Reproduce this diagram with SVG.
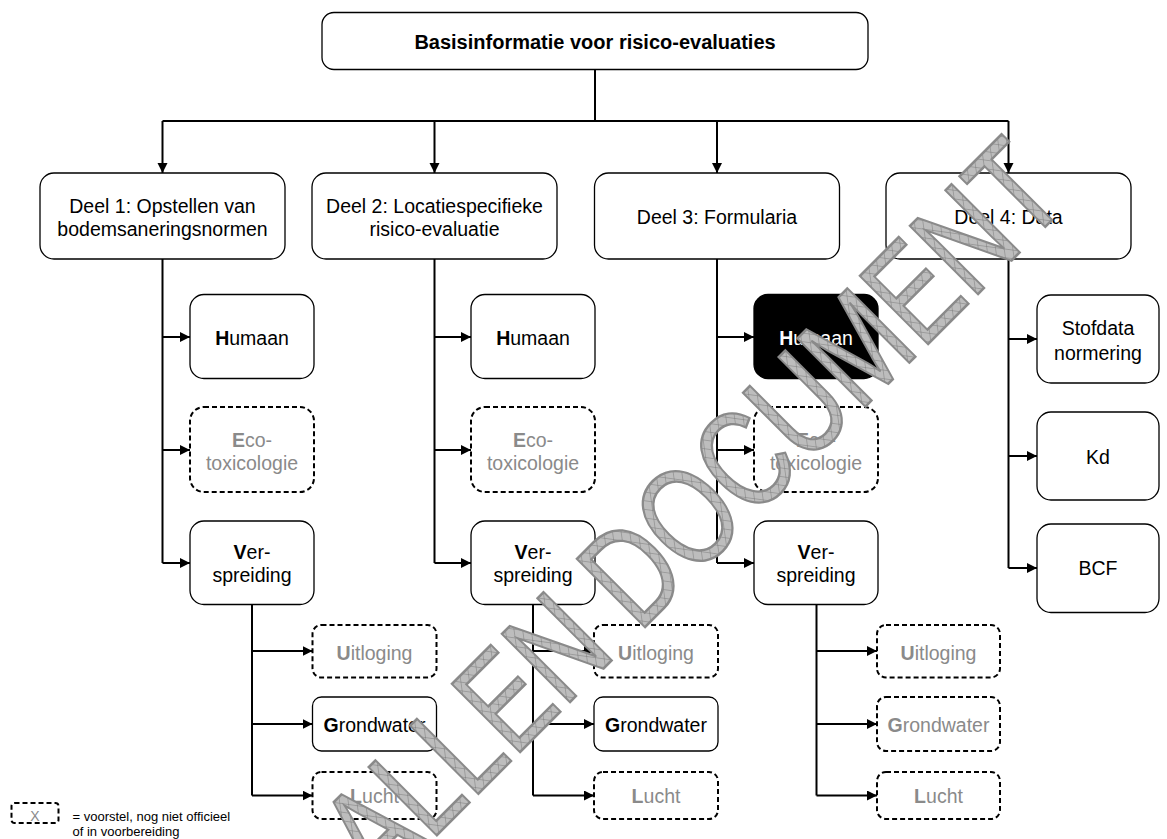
<svg xmlns="http://www.w3.org/2000/svg" width="1167" height="839" viewBox="0 0 1167 839">
<defs>
<style>
.box{fill:#fff;stroke:#000;stroke-width:1.3}
.dbox{fill:#fff;stroke:#000;stroke-width:2;stroke-dasharray:5 3}
.blk{fill:#000;stroke:#000;stroke-width:1.3}
.t{font-family:"Liberation Sans",Arial,sans-serif;font-size:19.5px;fill:#000;text-anchor:middle}
.g{fill:#8a8a8a}
.w{fill:#fff}
.b{font-weight:bold}
.c{fill:none;stroke:#000;stroke-width:2}
.leg{font-family:"Liberation Sans",Arial,sans-serif;font-size:13px;fill:#000}
.wm{font-family:"Liberation Sans",Arial,sans-serif;font-size:140px;fill:url(#hatch);stroke:#8a8a8a;stroke-width:2.5;text-anchor:middle}
</style>
<marker id="arr" markerUnits="userSpaceOnUse" markerWidth="11" markerHeight="11" refX="10" refY="5" orient="auto">
<path d="M0,0 L10,5 L0,10 z" fill="#000"/>
</marker>
<pattern id="hatch" width="10" height="10" patternUnits="userSpaceOnUse" patternTransform="rotate(45)">
<rect width="10" height="10" fill="#bdbdbd"/>
<path d="M0,0 H10 M0,0 V10" stroke="#707070" stroke-width="1"/>
</pattern>
</defs>

<g id="connectors">
<path class="c" d="M595,69.5 V121 M162.5,121 H1008.5"/>
<path class="c" marker-end="url(#arr)" d="M162.5,121 V173"/>
<path class="c" marker-end="url(#arr)" d="M434.5,121 V173"/>
<path class="c" marker-end="url(#arr)" d="M717,121 V173"/>
<path class="c" marker-end="url(#arr)" d="M1008.5,121 V173"/>

<path class="c" d="M162.5,259 V563"/>
<path class="c" marker-end="url(#arr)" d="M162.5,337 H190"/>
<path class="c" marker-end="url(#arr)" d="M162.5,450 H190"/>
<path class="c" marker-end="url(#arr)" d="M162.5,563 H190"/>

<path class="c" d="M434.5,259 V563"/>
<path class="c" marker-end="url(#arr)" d="M434.5,337 H471"/>
<path class="c" marker-end="url(#arr)" d="M434.5,450 H471"/>
<path class="c" marker-end="url(#arr)" d="M434.5,563 H471"/>

<path class="c" d="M717,259 V563"/>
<path class="c" marker-end="url(#arr)" d="M717,337 H754"/>
<path class="c" marker-end="url(#arr)" d="M717,450 H754"/>
<path class="c" marker-end="url(#arr)" d="M717,563 H754"/>

<path class="c" d="M1008.5,259 V568"/>
<path class="c" marker-end="url(#arr)" d="M1008.5,339 H1037"/>
<path class="c" marker-end="url(#arr)" d="M1008.5,456 H1037"/>
<path class="c" marker-end="url(#arr)" d="M1008.5,568 H1037"/>

<path class="c" d="M252,604.5 V795.5"/>
<path class="c" marker-end="url(#arr)" d="M252,651 H312.5"/>
<path class="c" marker-end="url(#arr)" d="M252,724 H312.5"/>
<path class="c" marker-end="url(#arr)" d="M252,795.5 H312.5"/>

<path class="c" d="M533,604.5 V795.5"/>
<path class="c" marker-end="url(#arr)" d="M533,651 H594"/>
<path class="c" marker-end="url(#arr)" d="M533,724 H594"/>
<path class="c" marker-end="url(#arr)" d="M533,795.5 H594"/>

<path class="c" d="M816.5,604.5 V795.5"/>
<path class="c" marker-end="url(#arr)" d="M816.5,651 H877"/>
<path class="c" marker-end="url(#arr)" d="M816.5,724 H877"/>
<path class="c" marker-end="url(#arr)" d="M816.5,795.5 H877"/>
</g>

<g id="root">
<rect class="box" x="322" y="12.5" width="546" height="57" rx="12"/>
<text class="t b" x="595" y="48.5" style="font-size:20px">Basisinformatie voor risico-evaluaties</text>
</g>

<g id="deel1">
<rect class="box" x="40" y="173" width="245" height="86" rx="14"/>
<text class="t" x="162.5" y="212.7">Deel 1: Opstellen van</text>
<text class="t" x="162.5" y="235.7">bodemsaneringsnormen</text>
</g>
<g id="deel2">
<rect class="box" x="312" y="173" width="245" height="86" rx="14"/>
<text class="t" x="434.5" y="212.7">Deel 2: Locatiespecifieke</text>
<text class="t" x="434.5" y="235.7">risico-evaluatie</text>
</g>
<g id="deel3">
<rect class="box" x="594.5" y="173" width="245" height="86" rx="14"/>
<text class="t" x="717" y="223.7">Deel 3: Formularia</text>
</g>
<g id="deel4">
<rect class="box" x="886" y="173" width="245" height="86" rx="14"/>
<text class="t" x="1008.5" y="223.7">Deel 4: Data</text>
</g>

<g id="d1-humaan">
<rect class="box" x="190" y="294.5" width="124" height="84" rx="14"/>
<text class="t" x="252" y="345.3"><tspan class="b">H</tspan>umaan</text>
</g>
<g id="d1-eco">
<rect class="dbox" x="190" y="407" width="124" height="85" rx="14"/>
<text class="t g" x="252" y="447"><tspan class="b">E</tspan>co-</text>
<text class="t g" x="252" y="470.3">toxicologie</text>
</g>
<g id="d1-ver">
<rect class="box" x="190" y="521" width="124" height="83.5" rx="14"/>
<text class="t" x="252" y="558.7"><tspan class="b">V</tspan>er-</text>
<text class="t" x="252" y="582">spreiding</text>
</g>

<g id="d2-humaan">
<rect class="box" x="471" y="294.5" width="124" height="84" rx="14"/>
<text class="t" x="533" y="345.3"><tspan class="b">H</tspan>umaan</text>
</g>
<g id="d2-eco">
<rect class="dbox" x="471" y="407" width="124" height="85" rx="14"/>
<text class="t g" x="533" y="447"><tspan class="b">E</tspan>co-</text>
<text class="t g" x="533" y="470.3">toxicologie</text>
</g>
<g id="d2-ver">
<rect class="box" x="471" y="521" width="124" height="83.5" rx="14"/>
<text class="t" x="533" y="558.7"><tspan class="b">V</tspan>er-</text>
<text class="t" x="533" y="582">spreiding</text>
</g>

<g id="d3-humaan">
<rect class="blk" x="754" y="294.5" width="124" height="84" rx="14"/>
<text class="t w" x="816" y="345.3"><tspan class="b">H</tspan>umaan</text>
</g>
<g id="d3-eco">
<rect class="dbox" x="754" y="407" width="124" height="85" rx="14"/>
<text class="t g" x="816" y="447"><tspan class="b">E</tspan>co-</text>
<text class="t g" x="816" y="470.3">toxicologie</text>
</g>
<g id="d3-ver">
<rect class="box" x="754" y="521" width="124" height="83.5" rx="14"/>
<text class="t" x="816" y="558.7"><tspan class="b">V</tspan>er-</text>
<text class="t" x="816" y="582">spreiding</text>
</g>

<g id="d4-stofdata">
<rect class="box" x="1037" y="295" width="122" height="88" rx="14"/>
<text class="t" x="1098" y="335.3">Stofdata</text>
<text class="t" x="1098" y="359.7">normering</text>
</g>
<g id="d4-kd">
<rect class="box" x="1037" y="412" width="122" height="88" rx="14"/>
<text class="t" x="1098" y="463.7">Kd</text>
</g>
<g id="d4-bcf">
<rect class="box" x="1037" y="524" width="122" height="88.5" rx="14"/>
<text class="t" x="1098" y="575">BCF</text>
</g>

<g id="d1-uitloging">
<rect class="dbox" x="312.5" y="625" width="124" height="52.5" rx="9"/>
<text class="t g" x="374.5" y="659.7"><tspan class="b">U</tspan>itloging</text>
</g>
<g id="d1-grondwater">
<rect class="box" x="312.5" y="697" width="124" height="54" rx="9"/>
<text class="t" x="374.5" y="732"><tspan class="b">G</tspan>rondwater</text>
</g>
<g id="d1-lucht">
<rect class="dbox" x="312.5" y="772" width="124" height="47" rx="9"/>
<text class="t g" x="374.5" y="803"><tspan class="b">L</tspan>ucht</text>
</g>

<g id="d2-uitloging">
<rect class="dbox" x="594" y="625" width="124" height="52.5" rx="9"/>
<text class="t g" x="656" y="659.7"><tspan class="b">U</tspan>itloging</text>
</g>
<g id="d2-grondwater">
<rect class="box" x="594" y="697" width="124" height="54" rx="9"/>
<text class="t" x="656" y="732"><tspan class="b">G</tspan>rondwater</text>
</g>
<g id="d2-lucht">
<rect class="dbox" x="594" y="772" width="124" height="47" rx="9"/>
<text class="t g" x="656" y="803"><tspan class="b">L</tspan>ucht</text>
</g>

<g id="d3-uitloging">
<rect class="dbox" x="877" y="625" width="123" height="52.5" rx="9"/>
<text class="t g" x="938.5" y="659.7"><tspan class="b">U</tspan>itloging</text>
</g>
<g id="d3-grondwater">
<rect class="dbox" x="877" y="697" width="123" height="54" rx="9"/>
<text class="t g" x="938.5" y="732"><tspan class="b">G</tspan>rondwater</text>
</g>
<g id="d3-lucht">
<rect class="dbox" x="877" y="772" width="123" height="47" rx="9"/>
<text class="t g" x="938.5" y="803"><tspan class="b">L</tspan>ucht</text>
</g>

<g id="legend">
<rect class="dbox" x="11.5" y="803" width="47" height="20" rx="3"/>
<text class="leg" x="35" y="820.5" style="fill:#8a8a8a;text-anchor:middle;font-size:14px">X</text>
<text class="leg" x="72.5" y="821">= voorstel, nog niet officieel</text>
<text class="leg" x="72.5" y="836">of in voorbereiding</text>
</g>

<g id="watermark">
<text class="wm" transform="translate(726,546) rotate(-45) scale(0.757,1)">ALLEN DOCUMENT</text>
</g>
</svg>
